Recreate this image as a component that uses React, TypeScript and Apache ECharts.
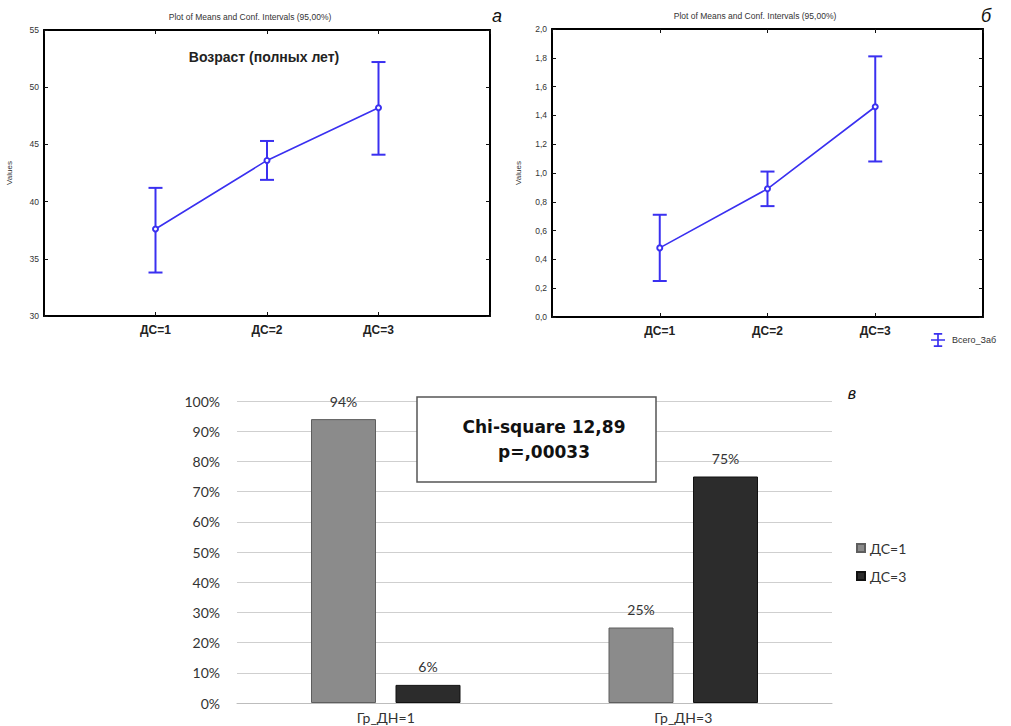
import React, { useEffect, useRef } from "react";
import * as echarts from "echarts";

// Panel а: age (full years) by ДС group, means with 95% confidence limits
const groupsTop = ["ДС=1", "ДС=2", "ДС=3"];
const ageMean = [37.6, 43.6, 48.2];
const ageLow = [33.8, 41.9, 44.1];
const ageHigh = [41.2, 45.3, 52.2];

// Panel б: Всего_Заб by ДС group
const zabMean = [0.48, 0.89, 1.46];
const zabLow = [0.25, 0.77, 1.08];
const zabHigh = [0.71, 1.01, 1.81];

// Panel в: share of ДС groups within Гр_ДН groups, %
const dnGroups = ["Гр_ДН=1", "Гр_ДН=3"];
const ds1Share = [94, 25];
const ds3Share = [6, 75];

const BLUE = "#3a30f0";
const SANS = "Liberation Sans, Arial, sans-serif";
const AXIS_LINE = { show: true, onZero: false, lineStyle: { color: "#000", width: 2 } };
const AXIS_TICK = { show: true, inside: true, length: 4, lineStyle: { color: "#111" } };

const errorSeries = (name: string, idx: number, low: number[], high: number[]) => ({
  type: "custom",
  name,
  xAxisIndex: idx,
  yAxisIndex: idx,
  z: 3,
  encode: { x: 0, y: [1, 2] },
  data: low.map((l, i) => [i + 1, l, high[i]]),
  renderItem: (_p: any, api: any) => {
    const x = api.value(0);
    const lo = api.coord([x, api.value(1)]);
    const hi = api.coord([x, api.value(2)]);
    const cap = 7;
    const style = { stroke: BLUE, lineWidth: 2 };
    return {
      type: "group",
      children: [
        { type: "line", shape: { x1: lo[0], y1: lo[1], x2: hi[0], y2: hi[1] }, style },
        { type: "line", shape: { x1: lo[0] - cap, y1: lo[1], x2: lo[0] + cap, y2: lo[1] }, style },
        { type: "line", shape: { x1: hi[0] - cap, y1: hi[1], x2: hi[0] + cap, y2: hi[1] }, style },
      ],
    };
  },
});

const meanSeries = (name: string, idx: number, mean: number[]) => ({
  type: "line",
  name,
  xAxisIndex: idx,
  yAxisIndex: idx,
  z: 4,
  data: mean.map((m, i) => [i + 1, m]),
  symbol: "emptyCircle",
  symbolSize: 5,
  itemStyle: { color: BLUE, borderColor: BLUE, borderWidth: 1.2 },
  lineStyle: { color: BLUE, width: 1.6 },
});

const topXAxes = (grid: number) => [
  {
    type: "value",
    gridIndex: grid,
    position: "bottom",
    min: 0,
    max: 4,
    interval: 1,
    axisLine: AXIS_LINE,
    axisTick: AXIS_TICK,
    splitLine: { show: false },
    axisLabel: {
      margin: 8,
      fontFamily: SANS,
      fontWeight: "bold",
      fontSize: 12,
      color: "#222",
      formatter: (v: number) => groupsTop[v - 1] ?? "",
    },
  },
  {
    type: "value",
    gridIndex: grid,
    position: "top",
    min: 0,
    max: 4,
    interval: 1,
    axisLine: AXIS_LINE,
    axisTick: AXIS_TICK,
    splitLine: { show: false },
    axisLabel: { show: false },
  },
];

const topYAxes = (
  grid: number,
  min: number,
  max: number,
  interval: number,
  fmt: (v: number) => string,
  nameGap: number
) => [
  {
    type: "value",
    gridIndex: grid,
    position: "left",
    min,
    max,
    interval,
    name: "Values",
    nameLocation: "middle",
    nameGap,
    nameTextStyle: { fontFamily: SANS, fontSize: 8, color: "#333" },
    axisLine: AXIS_LINE,
    axisTick: AXIS_TICK,
    splitLine: { show: false },
    axisLabel: { margin: 5, fontFamily: SANS, fontSize: 8.5, color: "#333", formatter: fmt },
  },
  {
    type: "value",
    gridIndex: grid,
    position: "right",
    min,
    max,
    interval,
    axisLine: AXIS_LINE,
    axisTick: AXIS_TICK,
    splitLine: { show: false },
    axisLabel: { show: false },
  },
];

export default function App() {
  const ref = useRef<HTMLDivElement>(null);

  useEffect(() => {
    if (!ref.current) return;
    const chart = echarts.init(ref.current, undefined, { renderer: "svg" });

    const plotTitle = "Plot of Means and Conf. Intervals (95,00%)";

    chart.setOption({
      animation: false,
      backgroundColor: "#fff",
      grid: [
        { left: 44, top: 30, width: 446, height: 286 },
        { left: 552, top: 29, width: 431, height: 288 },
        { left: 237, top: 401, width: 595, height: 302 },
      ],
      legend: [
        {
          data: [
            {
              name: "Всего_Заб",
              icon: "path://M2,0H8V1.2H2ZM4.4,0H5.6V10H4.4ZM0,4.4H10V5.6H0ZM2,8.8H8V10H2Z",
            },
          ],
          left: 926,
          top: 328,
          itemWidth: 18,
          itemHeight: 14,
          itemGap: 4,
          textStyle: { fontFamily: SANS, fontSize: 9, color: "#333" },
          itemStyle: { color: BLUE, borderWidth: 0 },
        },
        {
          data: ["ДС=1", "ДС=3"],
          orient: "vertical",
          left: 851,
          top: 536,
          itemWidth: 8,
          itemHeight: 8,
          itemGap: 14,
          icon: "rect",
          textStyle: { fontFamily: "Lato, sans-serif", fontSize: 14, color: "#333" },
        },
      ],
      xAxis: [
        ...topXAxes(0),
        ...topXAxes(1),
        {
          type: "category",
          gridIndex: 2,
          data: dnGroups,
          axisLine: { show: true, lineStyle: { color: "#bdbdbd", width: 1 } },
          axisTick: { show: false },
          axisLabel: { margin: 7, fontFamily: "Lato, sans-serif", fontSize: 14, color: "#333" },
        },
      ],
      yAxis: [
        ...topYAxes(0, 30, 55, 5, (v) => String(v), 31),
        ...topYAxes(1, 0, 2, 0.2, (v) => v.toFixed(1).replace(".", ","), 30),
        {
          type: "value",
          gridIndex: 2,
          min: 0,
          max: 100,
          interval: 10,
          axisLine: { show: false },
          axisTick: { show: false },
          splitLine: { lineStyle: { color: "#cfcfcf", width: 1 } },
          axisLabel: {
            margin: 17,
            fontFamily: "Lato, sans-serif",
            fontSize: 14,
            color: "#333",
            formatter: "{value}%",
          },
        },
      ],
      series: [
        errorSeries("Возраст", 0, ageLow, ageHigh),
        meanSeries("Возраст", 0, ageMean),
        errorSeries("Всего_Заб", 2, zabLow, zabHigh),
        meanSeries("Всего_Заб", 2, zabMean),
        {
          type: "bar",
          name: "ДС=1",
          xAxisIndex: 4,
          yAxisIndex: 4,
          data: ds1Share,
          barWidth: 65,
          barGap: "30%",
          itemStyle: { color: "#8b8b8b", borderColor: "#5e5e5e", borderWidth: 1 },
          label: {
            show: true,
            position: "top",
            distance: 11,
            formatter: "{c}%",
            fontFamily: "Lato, sans-serif",
            fontSize: 14,
            color: "#333",
          },
        },
        {
          type: "bar",
          name: "ДС=3",
          xAxisIndex: 4,
          yAxisIndex: 4,
          data: ds3Share,
          barWidth: 65,
          barGap: "30%",
          itemStyle: { color: "#2c2c2c", borderColor: "#111", borderWidth: 1 },
          label: {
            show: true,
            position: "top",
            distance: 11,
            formatter: "{c}%",
            fontFamily: "Lato, sans-serif",
            fontSize: 14,
            color: "#333",
          },
        },
      ],
      graphic: [
        {
          type: "text",
          x: 250,
          y: 17,
          style: {
            text: plotTitle,
            font: `8.5px ${SANS}`,
            fill: "#333",
            textAlign: "center",
            textVerticalAlign: "middle",
          },
        },
        {
          type: "text",
          x: 755,
          y: 16,
          style: {
            text: plotTitle,
            font: `8.5px ${SANS}`,
            fill: "#333",
            textAlign: "center",
            textVerticalAlign: "middle",
          },
        },
        {
          type: "text",
          x: 264,
          y: 57,
          z: 10,
          style: {
            text: "Возраст (полных лет)",
            font: `bold 14px ${SANS}`,
            fill: "#222",
            textAlign: "center",
            textVerticalAlign: "middle",
          },
        },
        {
          type: "text",
          x: 497,
          y: 16,
          style: {
            text: "а",
            font: `italic 18px ${SANS}`,
            fill: "#111",
            textAlign: "center",
            textVerticalAlign: "middle",
          },
        },
        {
          type: "text",
          x: 986,
          y: 16,
          style: {
            text: "б",
            font: `italic 18px ${SANS}`,
            fill: "#111",
            textAlign: "center",
            textVerticalAlign: "middle",
          },
        },
        {
          type: "text",
          x: 852,
          y: 393,
          style: {
            text: "в",
            font: `italic 16px ${SANS}`,
            fill: "#111",
            textAlign: "center",
            textVerticalAlign: "middle",
          },
        },
        {
          type: "rect",
          z: 10,
          shape: { x: 417, y: 397, width: 239, height: 85 },
          style: { fill: "#fff", stroke: "#555", lineWidth: 1.5 },
        },
        {
          type: "text",
          z: 11,
          x: 544,
          y: 427,
          style: {
            text: "Chi-square 12,89",
            font: "bold 17px DejaVu Sans, sans-serif",
            fill: "#111",
            textAlign: "center",
            textVerticalAlign: "middle",
          },
        },
        {
          type: "text",
          z: 11,
          x: 544,
          y: 452,
          style: {
            text: "p=,00033",
            font: "bold 17px DejaVu Sans, sans-serif",
            fill: "#111",
            textAlign: "center",
            textVerticalAlign: "middle",
          },
        },
      ],
    });

    return () => chart.dispose();
  }, []);

  return (
    <div
      ref={ref}
      style={{ position: "absolute", left: 0, top: 0, width: 1011, height: 726 }}
    />
  );
}
